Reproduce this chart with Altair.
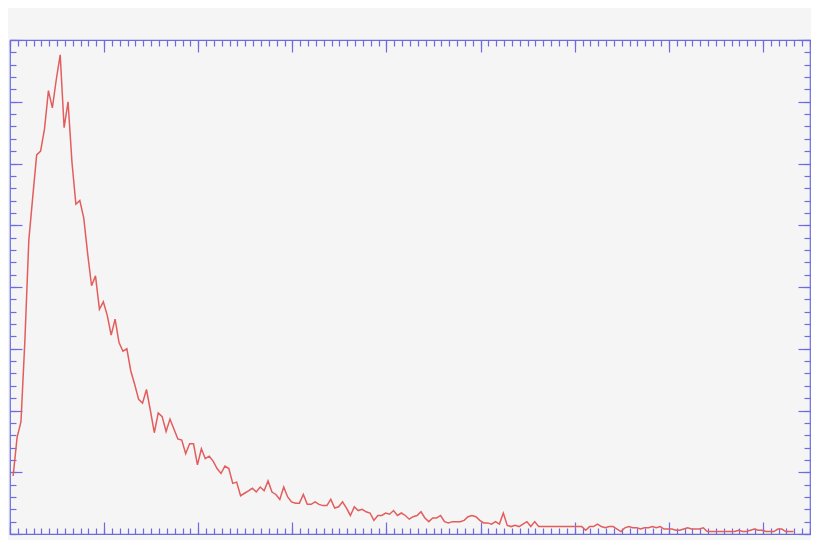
import altair as alt
import pandas as pd

# histogram-like series (value per bin)
counts = [
    4.7, 7.8, 9.1, 15.7, 23.8, 27.3, 30.7, 31.0, 32.8, 35.9,
    34.5, 36.8, 38.8, 32.9, 35.0, 30.1, 26.7, 27.0, 25.6, 22.7,
    20.1, 20.9, 18.2, 18.8, 17.7, 16.1, 17.4, 15.5, 14.8, 15.0,
    13.2, 12.1, 10.9, 10.6, 11.7, 10.0, 8.2, 9.8, 9.5, 8.3,
    9.3, 8.5, 7.7, 7.6, 6.5, 7.3, 7.3, 5.6, 6.9, 6.1,
    6.3, 5.9, 5.3, 4.9, 5.5, 5.3, 4.1, 4.2, 3.1, 3.3,
    3.5, 3.7, 3.4, 3.8, 3.5, 4.3, 3.4, 3.2, 2.8, 3.8,
    3.0, 2.6, 2.5, 2.5, 3.2, 2.4, 2.4, 2.6, 2.4, 2.3,
    2.3, 2.8, 2.1, 2.2, 2.6, 2.1, 1.5, 2.2, 1.9, 2.0,
    1.8, 1.7, 1.1, 1.5, 1.5, 1.7, 1.6, 1.9, 1.5, 1.7,
    1.5, 1.2, 1.4, 1.5, 1.8, 1.3, 1.0, 1.3, 1.3, 1.5,
    1.0, 0.9, 1.0, 1.0, 1.0, 1.1, 1.4, 1.5, 1.4, 1.1,
    0.9, 0.9, 0.8, 1.0, 0.8, 1.7, 0.7, 0.6, 0.7, 0.6,
    0.8, 1.0, 0.6, 1.0, 0.6, 0.6, 0.6, 0.6, 0.6, 0.6,
    0.6, 0.6, 0.6, 0.6, 0.6, 0.6, 0.3, 0.6, 0.6, 0.8,
    0.6, 0.5, 0.6, 0.6, 0.4, 0.2, 0.5, 0.6, 0.5, 0.5,
    0.4, 0.5, 0.5, 0.6, 0.5, 0.6, 0.4, 0.4, 0.4, 0.3,
    0.3, 0.4, 0.5, 0.4, 0.4, 0.4, 0.5, 0.2, 0.2, 0.2,
    0.2, 0.2, 0.2, 0.2, 0.2, 0.3, 0.2, 0.2, 0.3, 0.4,
    0.3, 0.3, 0.2, 0.2, 0.2, 0.4, 0.4, 0.2, 0.2, 0.2,
]
bin_start = 0.4
bin_step = 0.5

x_max = 102
y_max = 40
x_major = list(range(0, x_max + 1, 12))
x_minor = list(range(0, x_max + 1))
y_major = list(range(0, y_max + 1, 5))
y_minor = list(range(0, y_max + 1))

BLUE = "#6c6ce0"
RED = "#e35d5d"
BG = "#f5f5f5"

df = pd.DataFrame({"x": [bin_start + bin_step * i for i in range(len(counts))], "y": counts})

xs = alt.Scale(domain=[0, x_max], nice=False, zero=False)
ys = alt.Scale(domain=[0, y_max], nice=False, zero=True)


def ax(orient, size, values):
    return alt.Axis(orient=orient, values=values, tickSize=size, offset=-size,
                    labels=False, domain=False, grid=False, title="",
                    ticks=True, tickColor=BLUE, tickWidth=1.2, tickOpacity=1)


def layer(xaxis, yaxis, opacity):
    return alt.Chart(df).mark_line(color=RED, strokeWidth=1.5, opacity=opacity).encode(
        x=alt.X("x:Q", scale=xs, axis=xaxis),
        y=alt.Y("y:Q", scale=ys, axis=yaxis),
    )


chart = alt.layer(
    layer(ax("bottom", 6, x_minor), ax("left", 6, y_minor), 0),
    layer(ax("top", 6, x_minor), ax("right", 6, y_minor), 0),
    layer(ax("bottom", 12, x_major), ax("left", 12, y_major), 0),
    layer(ax("top", 12, x_major), ax("right", 12, y_major), 0),
    layer(None, None, 1),
).resolve_axis(x="independent", y="independent").properties(
    width=800,
    height=494,
    autosize=alt.AutoSizeParams(type="none"),
    padding={"left": 2, "top": 32, "right": 1, "bottom": 6},
    background=BG,
).configure_view(stroke=BLUE, strokeWidth=1.2, fill=BG)

chart.save("out.html", embed_options={"renderer": "svg", "actions": False})
